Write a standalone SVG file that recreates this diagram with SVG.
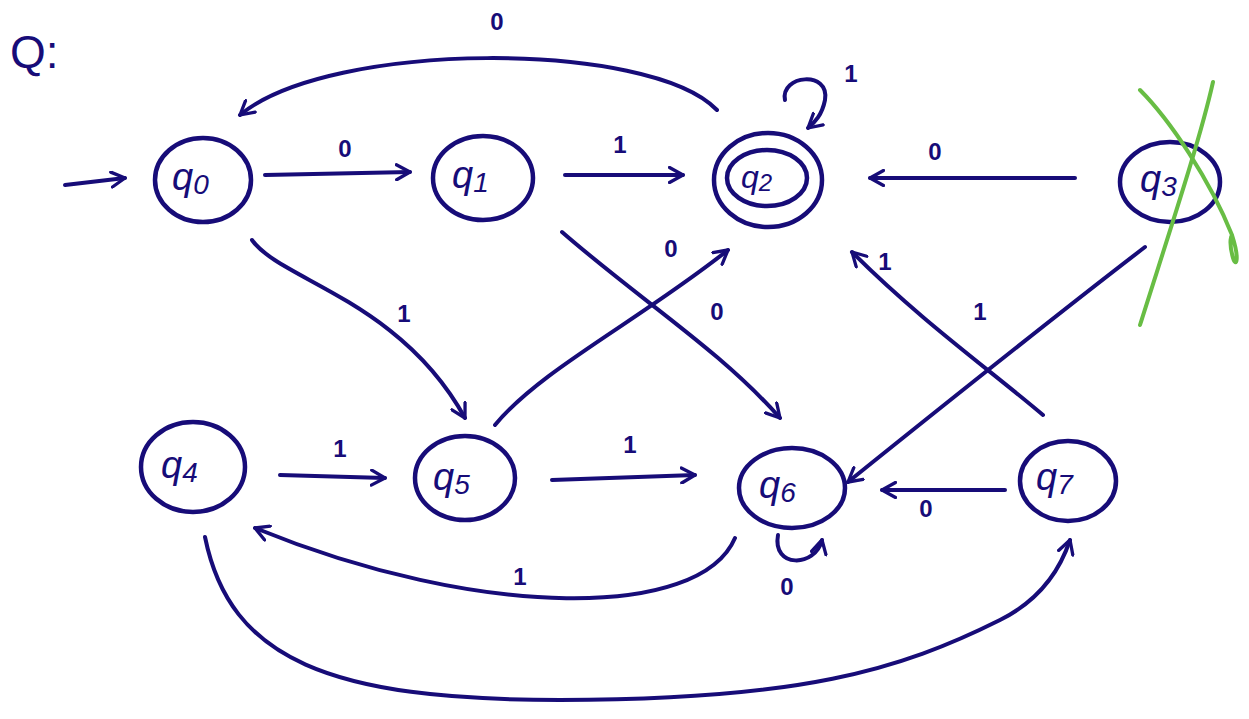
<svg xmlns="http://www.w3.org/2000/svg" width="1249" height="719" viewBox="0 0 1249 719">
<defs>
<style>
.n{fill:none;stroke:#170c78;stroke-width:4.5;stroke-linecap:round;stroke-linejoin:round}
.e{fill:none;stroke:#170c78;stroke-width:4;stroke-linecap:round;marker-end:url(#a)}
.t{font-family:"Liberation Sans",Arial,sans-serif;font-style:italic;fill:#170c78;font-size:38px}
.s{font-size:28px}
.l{font-family:"Liberation Sans",Arial,sans-serif;fill:#170c78;font-size:24px;font-weight:bold;text-anchor:middle}
.g{fill:none;stroke:#68bd44;stroke-width:4;stroke-linecap:round}
</style>
<marker id="a" viewBox="0 0 12 12" refX="10" refY="6" markerWidth="18" markerHeight="18" markerUnits="userSpaceOnUse" orient="auto">
<path d="M1,1 L10,6 L1,11" fill="none" stroke="#170c78" stroke-width="2.2" stroke-linecap="round" stroke-linejoin="round"/>
</marker>
</defs>
<rect width="1249" height="719" fill="#fff"/>
<text x="10" y="68" style="font-family:'Liberation Sans',Arial,sans-serif;font-size:46px;fill:#170c78">Q:</text>
<g id="connectors">
<path class="e" d="M65,185 L125,178"/>
<path class="e" d="M265,175 L410,172"/>
<path class="e" d="M565,175 L683,175"/>
<path class="e" d="M1075,178 L870,178"/>
<path class="e" d="M717,110 C650,40 330,40 240,115"/>
<path class="e" d="M785,100 C780,75 830,70 825,100 C822,115 815,122 808,128"/>
<path class="e" d="M252,240 C280,280 400,300 465,418"/>
<path class="e" d="M562,232 C640,300 720,350 780,418"/>
<path class="e" d="M495,425 C540,370 640,320 728,250"/>
<path class="e" d="M1145,247 C1050,320 950,400 848,482"/>
<path class="e" d="M1043,415 C990,370 920,320 852,252"/>
<path class="e" d="M280,475 L385,478"/>
<path class="e" d="M552,480 L695,475"/>
<path class="e" d="M1005,490 L882,490"/>
<path class="e" d="M778,535 C772,568 815,568 822,540"/>
<path class="e" d="M735,538 C700,620 480,620 255,528"/>
<path class="e" d="M205,537 C230,660 330,700 560,700 C800,700 900,670 1000,620 C1040,600 1060,570 1070,540"/>
</g>
<g id="labels">
<text class="l" x="345" y="157">0</text>
<text class="l" x="620" y="153">1</text>
<text class="l" x="935" y="160">0</text>
<text class="l" x="497" y="30">0</text>
<text class="l" x="851" y="82">1</text>
<text class="l" x="404" y="322">1</text>
<text class="l" x="717" y="320">0</text>
<text class="l" x="671" y="257">0</text>
<text class="l" x="980" y="320">1</text>
<text class="l" x="885" y="270">1</text>
<text class="l" x="340" y="457">1</text>
<text class="l" x="630" y="453">1</text>
<text class="l" x="926" y="517">0</text>
<text class="l" x="787" y="595">0</text>
<text class="l" x="520" y="585">1</text>
</g>
<g id="q0"><ellipse class="n" cx="203" cy="180" rx="48" ry="42"/><text class="t" x="172" y="190">q<tspan class="s" dy="4">0</tspan></text></g>
<g id="q1"><ellipse class="n" cx="483" cy="178" rx="50" ry="42"/><text class="t" x="452" y="188">q<tspan class="s" dy="4">1</tspan></text></g>
<g id="q2"><ellipse class="n" cx="768" cy="180" rx="54" ry="47"/><ellipse class="n" cx="767" cy="178" rx="40" ry="28"/><text class="t" x="741" y="188" style="font-size:32px">q<tspan style="font-size:24px" dy="3">2</tspan></text></g>
<g id="q3"><ellipse class="n" cx="1170" cy="182" rx="50" ry="40"/><text class="t" x="1140" y="192">q<tspan class="s" dy="4">3</tspan></text></g>
<g id="q4"><ellipse class="n" cx="193" cy="467" rx="52" ry="45"/><text class="t" x="161" y="478">q<tspan class="s" dy="4">4</tspan></text></g>
<g id="q5"><ellipse class="n" cx="465" cy="478" rx="50" ry="42"/><text class="t" x="433" y="490">q<tspan class="s" dy="4">5</tspan></text></g>
<g id="q6"><ellipse class="n" cx="792" cy="488" rx="53" ry="40"/><text class="t" x="759" y="498">q<tspan class="s" dy="4">6</tspan></text></g>
<g id="q7"><ellipse class="n" cx="1068" cy="481" rx="48" ry="40"/><text class="t" x="1036" y="490">q<tspan class="s" dy="4">7</tspan></text></g>
<g id="cross">
<path class="g" d="M1140,90 C1170,120 1210,180 1232,235 C1240,260 1236,268 1233,258 C1228,240 1232,235 1232,235"/>
<path class="g" d="M1213,82 C1200,140 1170,230 1140,325"/>
</g>
</svg>
